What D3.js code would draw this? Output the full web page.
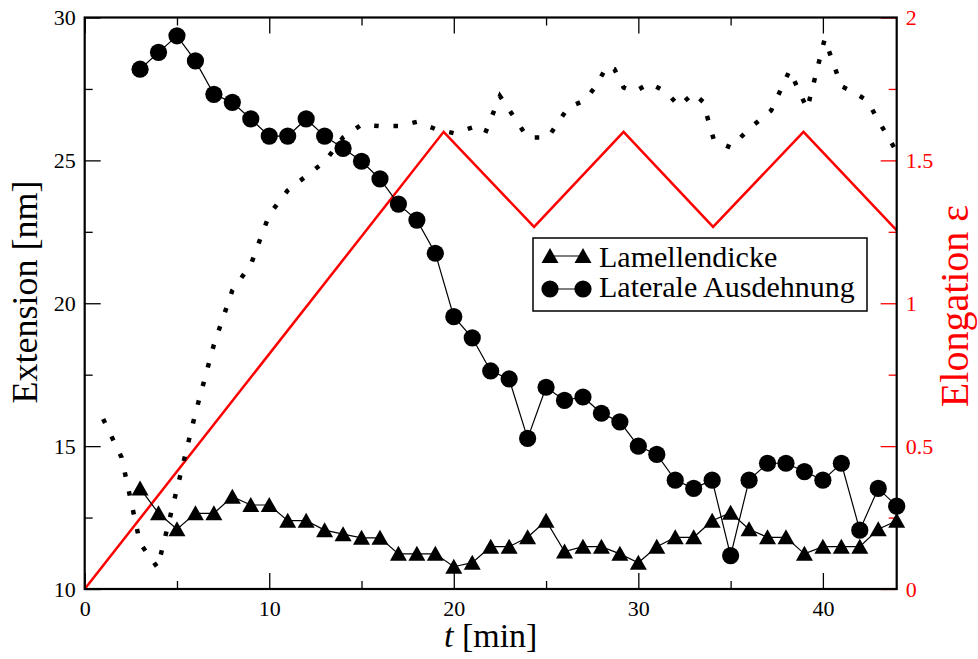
<!DOCTYPE html>
<html><head><meta charset="utf-8">
<script src="https://cdn.jsdelivr.net/npm/d3@7"></script>
<style>body{margin:0;background:#fff}svg{display:block}svg text{font-family:"Liberation Serif","Times New Roman",Times,"Nimbus Roman","Nimbus Roman No9 L",FreeSerif,Tinos,"DejaVu Serif","Noto Serif",serif}</style>
</head><body>
<script>
// ---- data ----
const timeLateral = [3,4,5,6,7,8,9,10,11,12,13,14,15,16,17,18,19,20,21,22,23,24,25,26,27,28,29,30,31,32,33,34,35,36,37,38,39,40,41,42,43,44];
const lateral = [28.19,28.78,29.36,28.48,27.31,27.03,26.45,25.85,25.85,26.45,25.85,25.42,24.97,24.35,23.47,22.91,21.75,19.53,18.79,17.63,17.35,15.27,17.06,16.6,16.72,16.15,15.85,15.0,14.71,13.81,13.52,13.81,11.17,13.81,14.4,14.4,14.11,13.81,14.4,12.06,13.52,12.9];
const timeLamellen = [3,4,5,6,7,8,9,10,11,12,13,14,15,16,17,18,19,20,21,22,23,24,25,26,27,28,29,30,31,32,33,34,35,36,37,38,39,40,41,42,43,44];
const lamellen = [13.52,12.65,12.09,12.65,12.65,13.23,12.94,12.94,12.39,12.39,12.06,11.92,11.79,11.79,11.23,11.23,11.23,10.78,10.92,11.48,11.48,11.81,12.39,11.31,11.48,11.48,11.23,10.92,11.48,11.81,11.81,12.39,12.67,12.09,11.81,11.81,11.23,11.48,11.48,11.48,12.09,12.39];
const dottedT = [1,2,3,3.95,5,6,7,8,9,10,11,12,13,14,15,16,17,18,19,20,21,21.7,22.5,24,25.1,26.2,27.1,27.7,28.3,28.7,29.2,29.8,30.6,31.5,32.2,33,33.5,34.1,35,36,37.2,38.2,39.15,40.1,41,41.6,42.4,43,44];
const dottedV = [15.95,14.6,11.6,10.75,13.5,16.15,18.55,20.45,21.35,23.1,23.95,24.45,24.95,25.8,26.25,26.2,26.2,26.35,26.1,25.95,26.15,25.95,27.25,25.8,25.8,26.85,27.1,27.6,28.3,28.2,27.55,27.4,27.7,27.4,26.9,27.35,27.05,25.7,25.45,26.1,26.75,28.15,26.8,29.25,27.6,27.4,27.1,26.4,25.3];
const elongT = [0,19.45,24.35,29.2,34.05,38.95,44];
const elongV = [0,1.6,1.267,1.6,1.267,1.6,1.255];
const xTicks = [0,10,20,30,40];
const xMinor = [5,15,25,35];
const yTicks = [10,15,20,25,30];
const yMinor = [12.5,17.5,22.5,27.5];
const y2Ticks = [0,0.5,1,1.5,2];
const y2Minor = [0.25,0.75,1.25,1.75];
const legendLabels = ["Lamellendicke","Laterale Ausdehnung"];

// ---- layout ----
const W = 978, H = 659;
const L = 84.7, R = 896.7, T = 17.5, B = 589;
const FONT = '"Liberation Serif","Times New Roman",Times,"Nimbus Roman",FreeSerif,Tinos,"DejaVu Serif","Noto Serif",serif';

const svg = d3.select("body").append("svg").attr("width", W).attr("height", H)
  .attr("font-family", FONT);

const x = d3.scaleLinear().domain([0,44]).range([L,R]);
const y = d3.scaleLinear().domain([10,30]).range([B,T]);
const y2 = d3.scaleLinear().domain([0,2]).range([B,T]);

function styleAxis(g, color, size) {
  g.attr("font-family", FONT).attr("font-size", size);
  g.select(".domain").remove();
  g.selectAll(".tick line").attr("stroke", color).attr("stroke-width", 1.3);
  g.selectAll(".tick text").attr("fill", color);
}

// bottom
svg.append("g").attr("transform", `translate(0,${B})`)
  .call(d3.axisBottom(x).tickValues(xTicks).tickSize(-16).tickPadding(11).tickFormat(d => String(d)))
  .call(g => styleAxis(g, "#000", 22));
svg.append("g").attr("transform", `translate(0,${B})`)
  .call(d3.axisBottom(x).tickValues(xMinor).tickSize(-8).tickFormat(""))
  .call(g => styleAxis(g, "#000", 22));
// top
svg.append("g").attr("transform", `translate(0,${T})`)
  .call(d3.axisTop(x).tickValues(xTicks).tickSize(-16).tickFormat(""))
  .call(g => styleAxis(g, "#000", 22));
svg.append("g").attr("transform", `translate(0,${T})`)
  .call(d3.axisTop(x).tickValues(xMinor).tickSize(-8).tickFormat(""))
  .call(g => styleAxis(g, "#000", 22));
// left
svg.append("g").attr("transform", `translate(${L},0)`)
  .call(d3.axisLeft(y).tickValues(yTicks).tickSize(-16).tickPadding(9).tickFormat(d => String(d)))
  .call(g => styleAxis(g, "#000", 22));
svg.append("g").attr("transform", `translate(${L},0)`)
  .call(d3.axisLeft(y).tickValues(yMinor).tickSize(-8).tickFormat(""))
  .call(g => styleAxis(g, "#000", 22));
// right (red)
svg.append("g").attr("transform", `translate(${R},0)`)
  .call(d3.axisRight(y2).tickValues(y2Ticks).tickSize(-16).tickPadding(9).tickFormat(d => String(d)))
  .call(g => styleAxis(g, "#ff0000", 22));
svg.append("g").attr("transform", `translate(${R},0)`)
  .call(d3.axisRight(y2).tickValues(y2Minor).tickSize(-8).tickFormat(""))
  .call(g => styleAxis(g, "#ff0000", 22));

// elongation (red)
const elongData = elongT.map((t,i) => [t, elongV[i]]);
svg.append("path").datum(elongData)
  .attr("d", d3.line().x(d => x(d[0])).y(d => y2(d[1])))
  .attr("fill", "none").attr("stroke", "#ff0000").attr("stroke-width", 2.5);

// dotted series
const dotData = dottedT.map((t,i) => [t, dottedV[i]]);
svg.append("path").datum(dotData)
  .attr("d", d3.line().x(d => x(d[0])).y(d => y(d[1])))
  .attr("fill", "none").attr("stroke", "#000").attr("stroke-width", 4.5)
  .attr("stroke-dasharray", "4.5,14.8").attr("stroke-linecap", "butt");

// Lamellendicke (triangles)
const lamData = timeLamellen.map((t,i) => [t, lamellen[i]]);
svg.append("path").datum(lamData)
  .attr("d", d3.line().x(d => x(d[0])).y(d => y(d[1])))
  .attr("fill", "none").attr("stroke", "#000").attr("stroke-width", 1.2);
const tri = (cx, cy) => `M${cx},${cy-8} L${cx+8.5},${cy+7} L${cx-8.5},${cy+7} Z`;
svg.append("g").selectAll("path").data(lamData).join("path")
  .attr("d", d => tri(x(d[0]), y(d[1]))).attr("fill", "#000");

// Laterale Ausdehnung (circles)
const latData = timeLateral.map((t,i) => [t, lateral[i]]);
svg.append("path").datum(latData)
  .attr("d", d3.line().x(d => x(d[0])).y(d => y(d[1])))
  .attr("fill", "none").attr("stroke", "#000").attr("stroke-width", 1.2);
svg.append("g").selectAll("circle").data(latData).join("circle")
  .attr("cx", d => x(d[0])).attr("cy", d => y(d[1])).attr("r", 8.6).attr("fill", "#000");

// frame
svg.append("rect").attr("x", L).attr("y", T).attr("width", R-L).attr("height", B-T)
  .attr("fill", "none").attr("stroke", "#000").attr("stroke-width", 2.2);

// legend
const lg = svg.append("g");
lg.append("rect").attr("x", 533).attr("y", 238).attr("width", 334).attr("height", 73)
  .attr("fill", "#fff").attr("stroke", "#000").attr("stroke-width", 1.5);
const rows = [{cy:256, base:267}, {cy:289, base:297}];
rows.forEach((r, i) => {
  lg.append("line").attr("x1", 550).attr("x2", 583).attr("y1", r.cy).attr("y2", r.cy)
    .attr("stroke", "#000").attr("stroke-width", 1.2);
  [550, 583].forEach(cx => {
    if (i === 0) lg.append("path").attr("d", tri(cx, r.cy)).attr("fill", "#000");
    else lg.append("circle").attr("cx", cx).attr("cy", r.cy).attr("r", 8.6).attr("fill", "#000");
  });
  lg.append("text").attr("x", 599).attr("y", r.base).text(legendLabels[i])
    .attr("font-size", 30).attr("fill", "#000");
});

// axis titles
svg.append("text").attr("transform", `translate(37,292) rotate(-90)`)
  .attr("text-anchor", "middle").attr("font-size", 36).text("Extension [nm]");
svg.append("text").attr("transform", `translate(968,306) rotate(-90)`)
  .attr("text-anchor", "middle").attr("font-size", 40).attr("fill", "#ff0000").text("Elongation ε");
const xt = svg.append("text").attr("x", (L+R)/2).attr("y", 647).attr("text-anchor", "middle")
  .attr("font-size", 34);
xt.append("tspan").attr("font-style", "italic").text("t");
xt.append("tspan").text(" [min]");
</script>
</body></html>
